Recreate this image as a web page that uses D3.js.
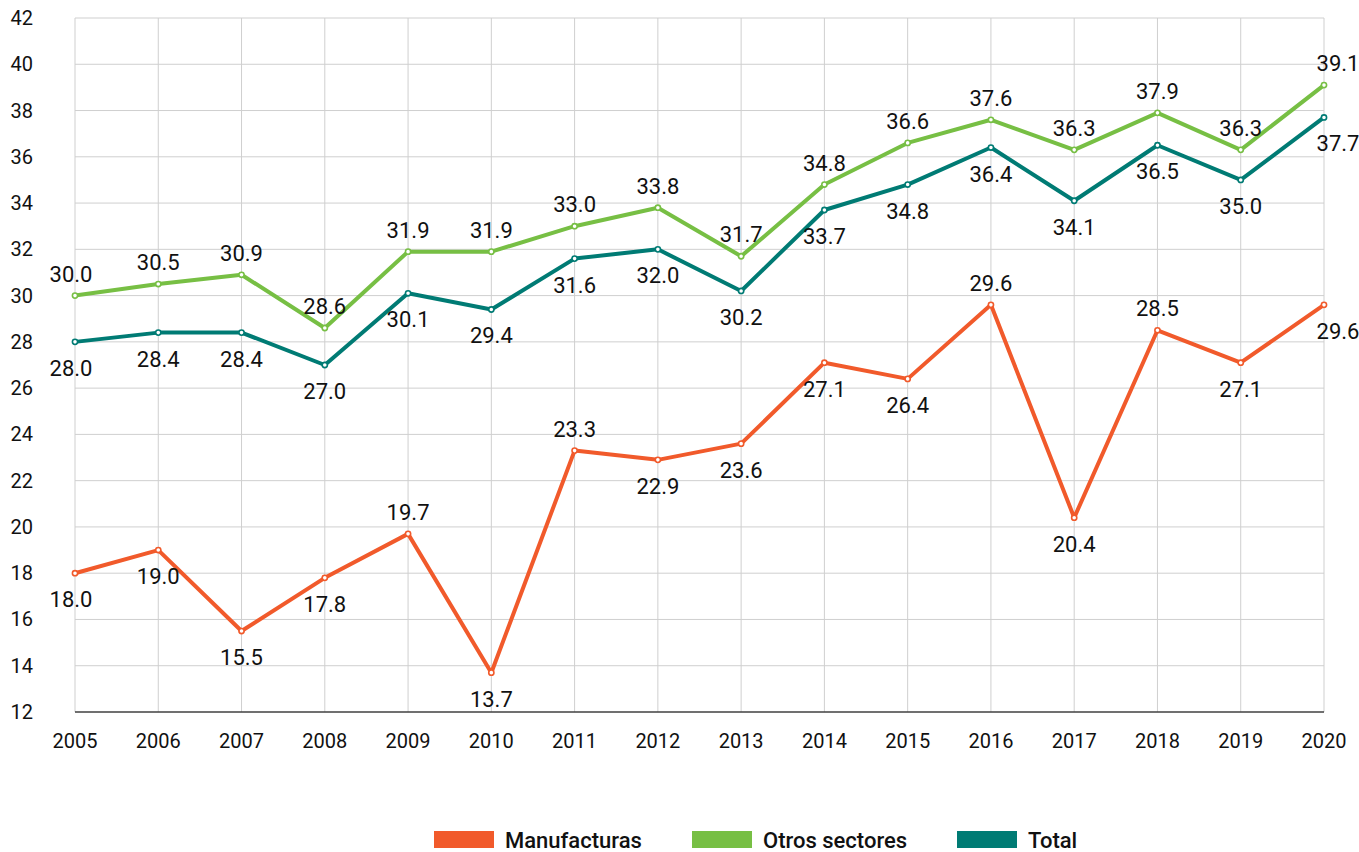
<!DOCTYPE html>
<html><head><meta charset="utf-8">
<script src="https://cdn.jsdelivr.net/npm/d3@7"></script>
<style>body{margin:0;background:#fff;} svg{display:block;font-family:Roboto,"Noto Sans",sans-serif;}</style>
</head><body>
<svg id="c" width="1359" height="852"></svg>
<script>
const years = [2005,2006,2007,2008,2009,2010,2011,2012,2013,2014,2015,2016,2017,2018,2019,2020];
const manufacturas = [18.0,19.0,15.5,17.8,19.7,13.7,23.3,22.9,23.6,27.1,26.4,29.6,20.4,28.5,27.1,29.6];
const otros = [30.0,30.5,30.9,28.6,31.9,31.9,33.0,33.8,31.7,34.8,36.6,37.6,36.3,37.9,36.3,39.1];
const total = [28.0,28.4,28.4,27.0,30.1,29.4,31.6,32.0,30.2,33.7,34.8,36.4,34.1,36.5,35.0,37.7];
// label placement: 1 = above, 0 = below
const manufPos = [0,0,0,0,1,0,1,0,0,0,0,1,0,1,0,0];
const otrosPos = years.map(()=>1);
const totalPos = years.map(()=>0);
const yTicks = [12,14,16,18,20,22,24,26,28,30,32,34,36,38,40,42];
const seriesNames = ["Manufacturas","Otros sectores","Total"];
const colors = ["#F15A2B","#77BF44","#007B74"];

const svg = d3.select("#c");
const x = d3.scalePoint().domain(years).range([75,1324]);
const y = d3.scaleLinear().domain([12,42]).range([712,18]);

// grid
svg.append("g").selectAll("line").data(yTicks.filter(t=>t>12)).join("line")
  .attr("x1",75).attr("x2",1324).attr("y1",d=>y(d)).attr("y2",d=>y(d))
  .attr("stroke","#cfcfcf").attr("stroke-width",1);
svg.append("g").selectAll("line").data(years).join("line")
  .attr("x1",d=>x(d)).attr("x2",d=>x(d)).attr("y1",y(42)).attr("y2",y(12))
  .attr("stroke","#cfcfcf").attr("stroke-width",1);
// bottom axis line
svg.append("line").attr("x1",75).attr("x2",1324).attr("y1",y(12)).attr("y2",y(12))
  .attr("stroke","#404040").attr("stroke-width",1.5);

// y labels
svg.append("g").selectAll("text").data(yTicks).join("text")
  .attr("x",33).attr("y",d=>y(d)).attr("dy","0.35em").attr("text-anchor","end")
  .attr("font-size",20).attr("fill","#111").text(d=>d);
// x labels
svg.append("g").selectAll("text").data(years).join("text")
  .attr("x",d=>x(d)).attr("y",748).attr("text-anchor","middle")
  .attr("font-size",20).attr("fill","#111").text(d=>d);

const series = [
  {name:seriesNames[0], vals:manufacturas, pos:manufPos, color:colors[0]},
  {name:seriesNames[1], vals:otros, pos:otrosPos, color:colors[1]},
  {name:seriesNames[2], vals:total, pos:totalPos, color:colors[2]}
];
const line = d3.line().x(d=>x(d.year)).y(d=>y(d.v));
series.forEach(s=>{
  const pts = years.map((yr,i)=>({year:yr,v:s.vals[i],pos:s.pos[i],i}));
  svg.append("path").datum(pts).attr("d",line).attr("fill","none")
    .attr("stroke",s.color).attr("stroke-width",4).attr("stroke-linejoin","round");
  svg.append("g").selectAll("circle").data(pts).join("circle")
    .attr("cx",d=>x(d.year)).attr("cy",d=>y(d.v)).attr("r",2.6)
    .attr("fill","#fff").attr("stroke",s.color).attr("stroke-width",1.6);
  s.pts = pts;
});
series.forEach(s=>{
  svg.append("g").selectAll("text").data(s.pts).join("text")
    .attr("x",d=>x(d.year) + (d.i===years.length-1 ? 14 : (d.i===0 ? -4 : 0)))
    .attr("y",d=>y(d.v) + (d.pos ? -14 : 34))
    .attr("text-anchor","middle").attr("font-size",22).attr("fill","#111")
    .text(d=>d.v.toFixed(1));
});

// legend
const legX = [434,692,957];
const lg = svg.append("g");
seriesNames.forEach((n,i)=>{
  lg.append("rect").attr("x",legX[i]).attr("y",831).attr("width",60).attr("height",17).attr("fill",colors[i]);
  lg.append("text").attr("x",legX[i]+71).attr("y",848).attr("font-size",22).attr("font-weight",500)
    .attr("fill","#111").text(n);
});
</script>
</body></html>
